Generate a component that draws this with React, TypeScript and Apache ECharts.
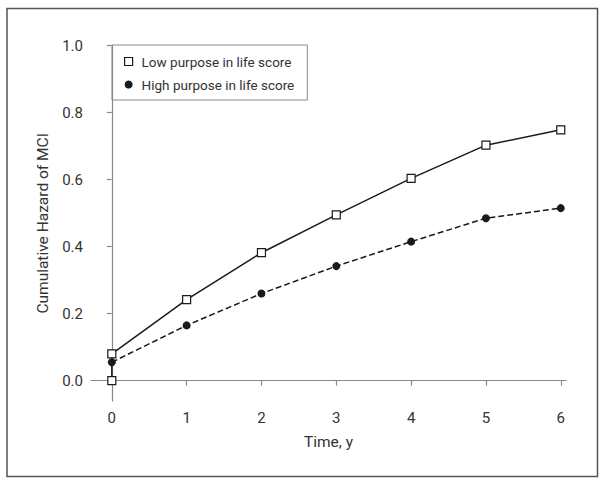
import React, { useEffect, useRef } from "react";
import * as echarts from "echarts";

const years = [0, 0, 1, 2, 3, 4, 5, 6];
const lowPurpose = [0, 0.08, 0.242, 0.382, 0.495, 0.604, 0.703, 0.749];
const highYears = [0, 1, 2, 3, 4, 5, 6];
const highPurpose = [0.055, 0.165, 0.26, 0.342, 0.415, 0.485, 0.515];
const xTicks = [0, 1, 2, 3, 4, 5, 6];
const yTicks = [0, 0.2, 0.4, 0.6, 0.8, 1.0];
const seriesNames = ["Low purpose in life score", "High purpose in life score"];

const FONT = "Roboto, 'Liberation Sans', Arial, sans-serif";
const TEXT = "#333";
const AXIS = "#888";
const INK = "#1a1a1a";

export default function App() {
  const ref = useRef<HTMLDivElement>(null);
  useEffect(() => {
    if (!ref.current) return;
    const chart = echarts.init(ref.current, null, { renderer: "svg" });
    chart.setOption({
      animation: false,
      backgroundColor: "#fff",
      textStyle: { fontFamily: FONT },
      grid: { left: 91, right: 34, top: 45.7, bottom: 83, containLabel: false },
      legend: {
        orient: "vertical",
        left: 112,
        top: 45,
        itemWidth: 8,
        itemHeight: 8,
        itemGap: 6,
        padding: [8, 13, 7, 12],
        borderColor: "#888",
        borderWidth: 1,
        textStyle: { fontFamily: FONT, fontSize: 13.5, color: TEXT, lineHeight: 17, padding: [0, 0, 0, 4] },
        data: [
          { name: seriesNames[0], icon: "rect", itemStyle: { color: "#fff", borderColor: INK, borderWidth: 1.2 } },
          { name: seriesNames[1], icon: "circle", itemStyle: { color: INK } },
        ],
      },
      xAxis: {
        type: "value",
        min: -0.278,
        max: 6.07,
        splitLine: { show: false },
        axisLine: { lineStyle: { color: AXIS, width: 1.2 } },
        axisTick: { customValues: xTicks, length: 5, lineStyle: { color: AXIS, width: 1.2 } },
        axisLabel: { customValues: xTicks, color: TEXT, fontSize: 15, fontFamily: FONT, margin: 9 },
        name: "Time, y",
        nameLocation: "middle",
        nameGap: 33,
        nameTextStyle: { color: TEXT, fontSize: 15.5, fontFamily: FONT },
      },
      yAxis: {
        type: "value",
        min: -0.0607,
        max: 1.0,
        splitLine: { show: false },
        axisLine: { show: true, lineStyle: { color: AXIS, width: 1.2 } },
        axisTick: { show: true, customValues: yTicks, length: 5, lineStyle: { color: AXIS, width: 1.2 } },
        axisLabel: {
          customValues: yTicks,
          color: TEXT,
          fontSize: 15,
          fontFamily: FONT,
          margin: 8,
          formatter: (v: number) => v.toFixed(1),
        },
        name: "Cumulative Hazard of MCI",
        nameLocation: "middle",
        nameGap: 38,
        nameTextStyle: { color: TEXT, fontSize: 15.5, fontFamily: FONT },
      },
      graphic: [
        {
          type: "rect",
          shape: { x: 7, y: 8.5, width: 590.5, height: 468 },
          style: { fill: "none", stroke: "#555", lineWidth: 1.5 },
          silent: true,
        },
      ],
      series: [
        {
          name: seriesNames[1],
          type: "line",
          z: 2,
          data: highYears.map((x, i) => [x, highPurpose[i]]),
          symbol: "circle",
          symbolSize: 8,
          itemStyle: { color: INK },
          lineStyle: { color: INK, width: 1.5, type: [6, 3] },
        },
        {
          name: seriesNames[0],
          type: "line",
          z: 3,
          data: years.map((x, i) => [x, lowPurpose[i]]),
          symbol: "rect",
          symbolSize: 8,
          itemStyle: { color: "#fff", borderColor: INK, borderWidth: 1.2 },
          lineStyle: { color: INK, width: 1.5 },
        },
      ],
    });
    return () => chart.dispose();
  }, []);
  return (
    <div
      ref={ref}
      style={{ position: "fixed", left: 0, top: 0, width: 600, height: 484, background: "#fff" }}
    />
  );
}
